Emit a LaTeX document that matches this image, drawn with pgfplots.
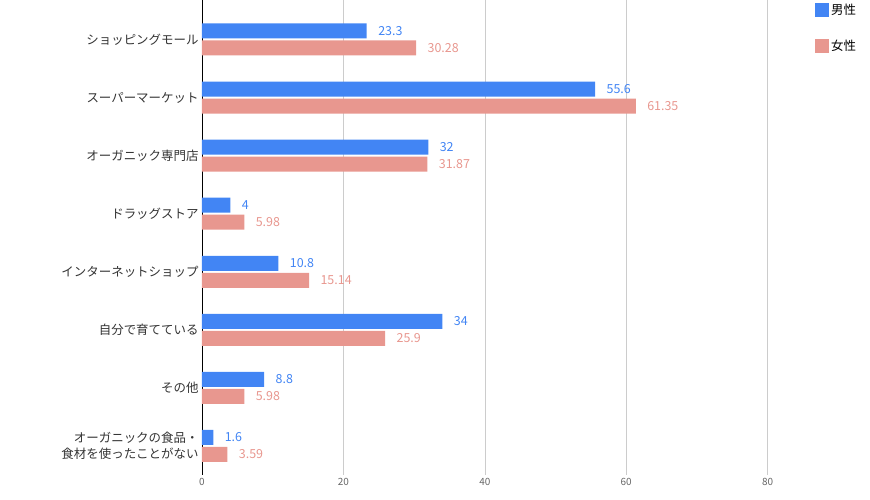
\documentclass[border=0pt]{standalone}
\usepackage{pgfplots}
\pgfplotsset{compat=1.18}
\usepackage{fontspec}
\setmainfont{Noto Sans CJK JP}
\definecolor{mblue}{HTML}{4285F4}
\definecolor{fpink}{HTML}{E8978F}
\begin{document}
\begin{tikzpicture}
\useasboundingbox (-202bp,-25bp) rectangle (668bp,475bp);
\begin{axis}[
  at={(0,0)}, anchor=south west,
  scale only axis, width=601bp, height=475bp,
  xbar, bar width=15bp,
  xmin=0, xmax=85, ymin=-0.68, ymax=7.5, y dir=reverse,
  xtick={0,20,40,60,80}, xmajorgrids, grid style={gray!40},
  ytick={0,...,7},
  yticklabels={ショッピングモール,スーパーマーケット,オーガニック専門店,ドラッグストア,インターネットショップ,自分で育てている,その他,{オーガニックの食品・\\食材を使ったことがない}},
  yticklabel style={align=right, font=\fontsize{12.5}{16}\selectfont, text=black!80},
  xticklabel style={font=\fontsize{10}{12}\selectfont, text=black!60},
  /pgf/number format/assume math mode=true,
  axis x line=bottom, axis y line*=left,
  x axis line style={draw=none},
  y axis line style={black, -},
  major tick length=0pt,
  every axis plot/.append style={draw=none},
  nodes near coords, nodes near coords align=horizontal,
  every node near coord/.append style={font=\fontsize{12.5}{14}\selectfont, anchor=west, xshift=8bp},
  legend style={at={(1.015,1.0)}, anchor=north west, draw=none, fill=none, font=\fontsize{12.5}{14}\selectfont, row sep=20bp},
  legend image code/.code={\fill[#1] (0bp,-7bp) rectangle (14bp,7bp);},
  clip=false,
]
\addplot[fill=mblue, bar shift=8.5bp, every node near coord/.append style={text=mblue}] coordinates {(23.3,0) (55.6,1) (32,2) (4,3) (10.8,4) (34,5) (8.8,6) (1.6,7)};
\addplot[fill=fpink, bar shift=-8.5bp, every node near coord/.append style={text=fpink}] coordinates {(30.28,0) (61.35,1) (31.87,2) (5.98,3) (15.14,4) (25.9,5) (5.98,6) (3.59,7)};
\legend{男性,女性}
\end{axis}
\end{tikzpicture}
\end{document}
